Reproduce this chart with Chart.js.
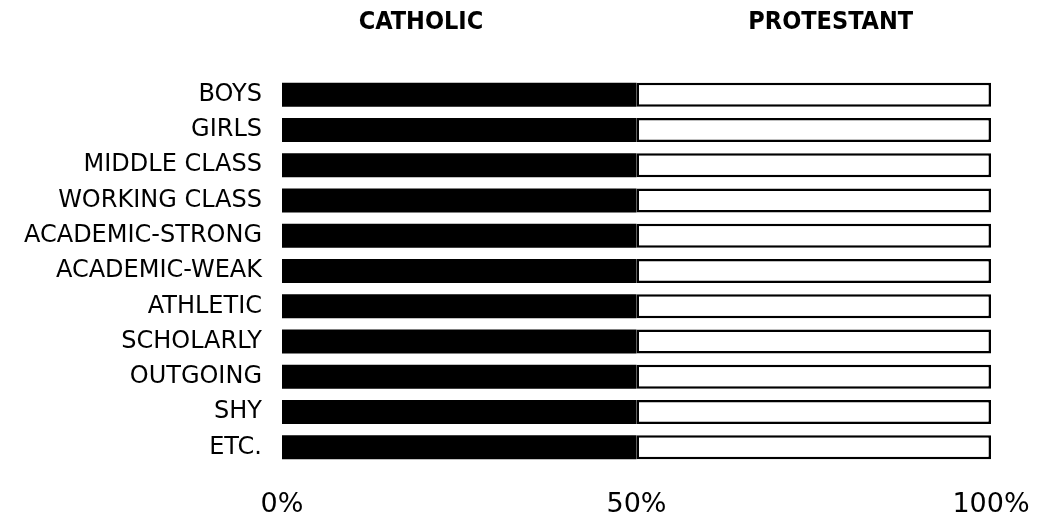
<!DOCTYPE html>
<html>
<head>
<meta charset="utf-8">
<script src="https://cdn.jsdelivr.net/npm/chart.js@4.4.1/dist/chart.umd.min.js"></script>
<style>
  html, body { margin: 0; padding: 0; background: #fff; }
  #wrap { width: 1039px; height: 518px; }
</style>
</head>
<body>
<div id="wrap"><canvas id="barChart" width="1039" height="518"></canvas></div>
<script>
// categories and shares (percent of each group)
const groups = ['BOYS', 'GIRLS', 'MIDDLE CLASS', 'WORKING CLASS', 'ACADEMIC-STRONG',
    'ACADEMIC-WEAK', 'ATHLETIC', 'SCHOLARLY', 'OUTGOING', 'SHY', 'ETC.'];
const catholic = [50, 50, 50, 50, 50, 50, 50, 50, 50, 50, 50];
const protestant = [50, 50, 50, 50, 50, 50, 50, 50, 50, 50, 50];
const tickValues = [0, 50, 100];

// draws the dataset names above the bars
const headerPlugin = {
    id: 'headers',
    afterDraw(chart, args, opts) {
        const ctx = chart.ctx;
        const x = chart.scales.x;
        ctx.save();
        ctx.font = 'bold 25px "DejaVu Sans Condensed", "DejaVu Sans"';
        ctx.fillStyle = '#000';
        ctx.textAlign = 'center';
        ctx.textBaseline = 'middle';
        chart.data.datasets.forEach((ds, i) => {
            ctx.fillText(ds.label, x.getPixelForValue(opts.at[i]), opts.y);
        });
        ctx.restore();
    }
};

const ctx = document.getElementById('barChart').getContext('2d');

new Chart(ctx, {
    type: 'bar',
    data: {
        labels: groups,
        datasets: [{
            label: 'CATHOLIC',
            data: catholic,
            backgroundColor: '#000',
            borderWidth: 0
        }, {
            label: 'PROTESTANT',
            data: protestant,
            backgroundColor: '#fff',
            borderColor: '#000',
            borderWidth: 2.5,
            borderSkipped: false
        }]
    },
    options: {
        indexAxis: 'y',
        responsive: false,
        animation: false,
        datasets: {
            bar: { categoryPercentage: 1, barPercentage: 0.68 }
        },
        layout: { padding: { top: 77, right: 48, left: 0, bottom: 0 } },
        scales: {
            x: {
                stacked: true,
                min: 0,
                max: 100,
                grid: { display: false, drawTicks: false },
                border: { display: false },
                afterBuildTicks: (scale) => {
                    scale.ticks = tickValues.map(v => ({ value: v }));
                },
                afterFit: (scale) => {
                    scale.height = 53;
                    scale.paddingLeft = 0;
                    scale.paddingRight = 0;
                },
                ticks: {
                    padding: 24,
                    color: '#000',
                    maxRotation: 0,
                    font: { family: 'DejaVu Sans', size: 27, weight: 'normal' },
                    callback: (v) => v + '%'
                }
            },
            y: {
                stacked: true,
                grid: { display: false, drawTicks: false },
                border: { display: false },
                afterFit: (scale) => { scale.width = 282; },
                ticks: {
                    padding: 20,
                    color: '#000',
                    font: { family: 'DejaVu Sans', size: 24 }
                }
            }
        },
        plugins: {
            legend: { display: false },
            tooltip: { enabled: false },
            headers: { at: [19.6, 77.4], y: 22 }
        }
    },
    plugins: [headerPlugin]
});
</script>
</body>
</html>
